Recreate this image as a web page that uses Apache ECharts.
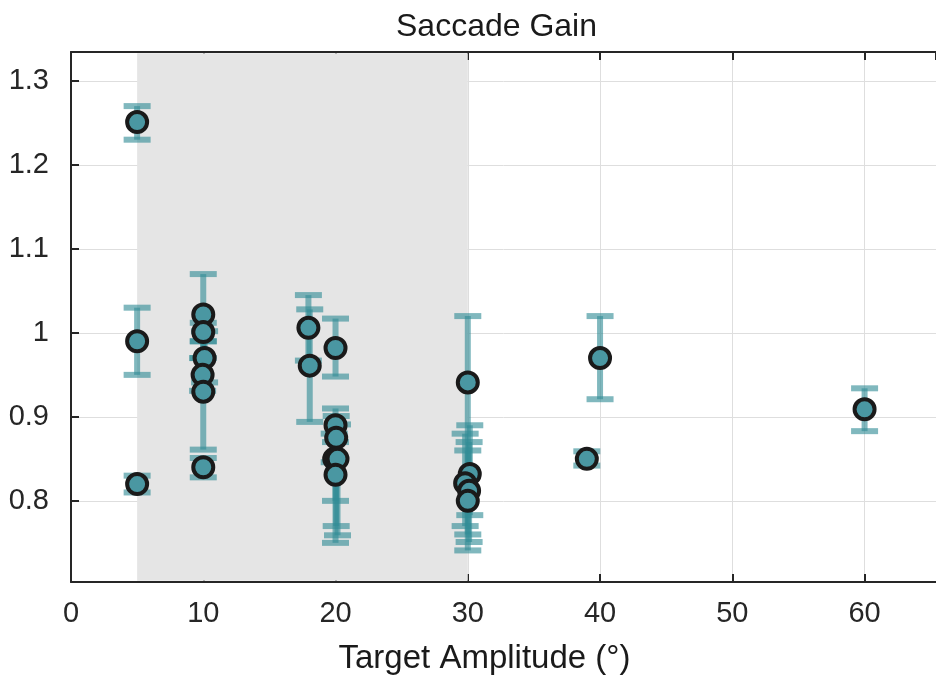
<!DOCTYPE html>
<html><head><meta charset="utf-8">
<script src="https://cdn.jsdelivr.net/npm/echarts@6/dist/echarts.min.js"></script>
<style>html,body{margin:0;padding:0;background:#fff}#c{width:936px;height:680px}</style>
</head><body><div id="c"></div>
<script>
// Target amplitude (deg) of each measurement
const amplitude = [5, 5, 5,
  10, 10, 10.1, 9.95, 10, 10,
  17.95, 18.05,
  20, 20, 20.05, 19.9, 20.15, 20,
  30, 30.15, 29.8, 30.1, 30,
  39, 40, 60];
// Saccade gain (mean)
const gain = [1.251, 0.990, 0.820,
  1.022, 1.001, 0.970, 0.950, 0.930, 0.840,
  1.006, 0.961,
  0.982, 0.890, 0.875, 0.850, 0.850, 0.831,
  0.941, 0.832, 0.821, 0.812, 0.800,
  0.850, 0.970, 0.909];
// Error bar lower ends
const gainLow = [1.230, 0.950, 0.810,
  0.970, 0.990, 0.941, 0.931, 0.861, 0.828,
  0.967, 0.894,
  0.948, 0.800, 0.770, 0.846, 0.759, 0.750,
  0.760, 0.783, 0.770, 0.751, 0.741,
  0.842, 0.921, 0.883];
// Error bar upper ends
const gainHigh = [1.270, 1.030, 0.830,
  1.070, 1.012, 1.002, 0.970, 0.990, 0.851,
  1.045, 1.028,
  1.017, 0.910, 0.901, 0.880, 0.891, 0.870,
  1.020, 0.890, 0.880, 0.870, 0.860,
  0.859, 1.020, 0.934];
const shadedRange = [5, 30];
const xRange = [0, 65.4];
const yRange = [0.7034, 1.3344];

const FONT = "'Liberation Sans', Arial, sans-serif";
const AX = '#262626';

const chart = echarts.init(document.getElementById('c'), null, {renderer: 'canvas'});
const pts = amplitude.map((x, i) => [x, gain[i]]);
const bars = amplitude.map((x, i) => [x, gainLow[i], gainHigh[i]]);
const epsY = (yRange[1] - yRange[0]) / 531 * 1.2;

chart.setOption({
  animation: false,
  backgroundColor: '#fff',
  title: {
    text: 'Saccade Gain', left: 391, top: 6,
    textStyle: {fontFamily: FONT, fontSize: 32, fontWeight: 'normal', color: '#1a1a1a'}
  },
  grid: {left: 71, right: 0, top: 52, bottom: 97, containLabel: false},
  xAxis: [{
    type: 'value', position: 'bottom', min: xRange[0], max: xRange[1], interval: 10,
    name: 'Target Amplitude (°)', nameLocation: 'middle', nameGap: 60,
    nameTextStyle: {fontFamily: FONT, fontSize: 33, color: '#1a1a1a', padding: [0, 38, 0, 0]},
    axisLine: {show: true, lineStyle: {color: AX, width: 2}},
    axisTick: {show: true, inside: true, length: 8, lineStyle: {color: AX, width: 2}},
    axisLabel: {fontFamily: FONT, fontSize: 29, color: AX, margin: 17, showMaxLabel: false},
    splitLine: {show: true, lineStyle: {color: '#dedede', width: 1}}
  }, {
    type: 'value', position: 'top', min: xRange[0], max: xRange[1], interval: 10,
    axisLine: {show: true, lineStyle: {color: AX, width: 2}},
    axisTick: {show: true, inside: true, length: 8, lineStyle: {color: AX, width: 2}},
    axisLabel: {show: false},
    splitLine: {show: false}
  }],
  yAxis: [{
    type: 'value', min: yRange[0], max: yRange[1], splitNumber: 6,
    axisLine: {show: true, lineStyle: {color: AX, width: 2}},
    axisTick: {show: true, inside: true, length: 8, lineStyle: {color: AX, width: 2}},
    axisLabel: {fontFamily: FONT, fontSize: 29, color: AX, margin: 22, showMinLabel: false, showMaxLabel: false},
    splitLine: {show: true, lineStyle: {color: '#dedede', width: 1}}
  }],
  series: [{
    type: 'custom',
    z: 2,
    data: bars,
    encode: {x: 0, y: [1, 2]},
    renderItem: function (params, api) {
      const x = api.value(0), lo = api.value(1), hi = api.value(2);
      const pLo = api.coord([x, lo]), pHi = api.coord([x, hi]);
      const lw = 6, cw = 27, ch = 6;
      const style = {fill: 'rgba(50,140,150,0.62)'};
      return {type: 'group', children: [
        {type: 'rect', shape: {x: pHi[0] - lw / 2, y: pHi[1], width: lw, height: pLo[1] - pHi[1]}, style: style},
        {type: 'rect', shape: {x: pHi[0] - cw / 2, y: pHi[1] - ch / 2, width: cw, height: ch}, style: style},
        {type: 'rect', shape: {x: pLo[0] - cw / 2, y: pLo[1] - ch / 2, width: cw, height: ch}, style: style}
      ]};
    },
    markArea: {
      silent: true,
      itemStyle: {color: '#e5e5e5', opacity: 1},
      data: [[{xAxis: shadedRange[0], yAxis: yRange[0] + epsY}, {xAxis: shadedRange[1], yAxis: yRange[1] - epsY}]]
    }
  }, {
    type: 'scatter',
    z: 3,
    data: pts,
    symbol: 'circle',
    symbolSize: 20,
    itemStyle: {color: '#4a97a2', borderColor: '#1a1a1a', borderWidth: 4, opacity: 1}
  }]
});
</script>
</body></html>
